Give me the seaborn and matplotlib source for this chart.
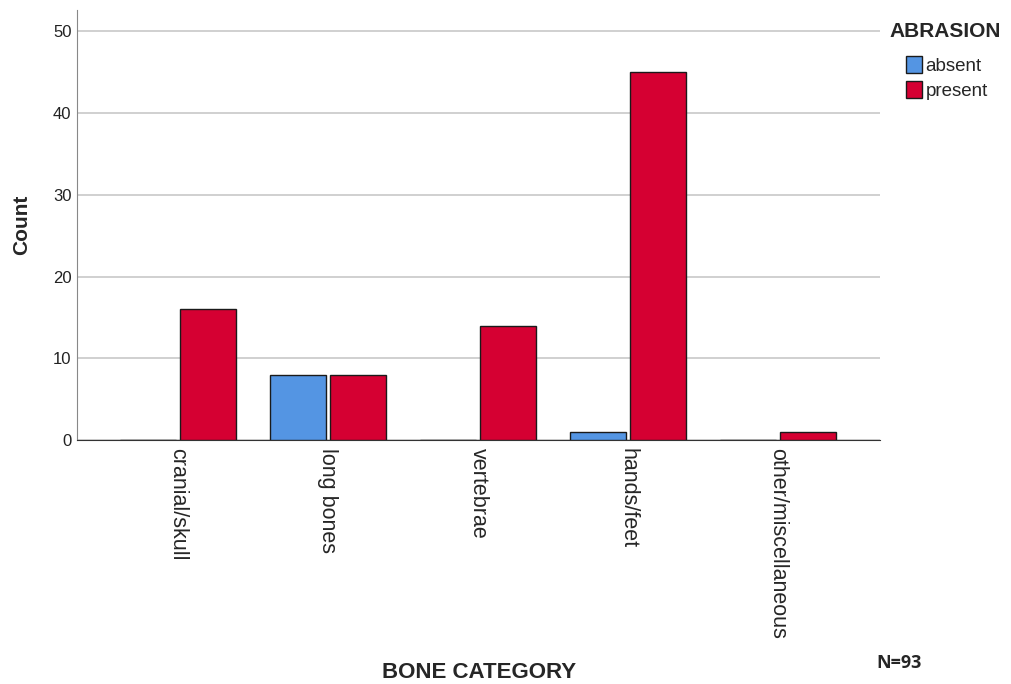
import matplotlib
matplotlib.use("Agg")
import matplotlib.pyplot as plt
import pandas as pd
import seaborn as sns

# Datos
categorias = ["cranial/skull", "long bones", "vertebrae", "hands/feet", "other/miscellaneous"]
absent = [0, 8, 0, 1, 0]
present = [16, 8, 14, 45, 1]

df = pd.DataFrame({
    "BONE CATEGORY": categorias * 2,
    "ABRASION": ["absent"] * len(categorias) + ["present"] * len(categorias),
    "Count": absent + present,
})

sns.set_style("white")
plt.rcParams["font.family"] = ["Liberation Sans", "DejaVu Sans"]

fig = plt.figure(figsize=(10.12, 6.84), dpi=100)
ax = fig.add_axes([0.0761, 0.3567, 0.7935, 0.6287])

paleta = {"absent": "#5495e3", "present": "#d50032"}
sns.barplot(data=df, x="BONE CATEGORY", y="Count", hue="ABRASION",
            palette=paleta, width=0.8, gap=0.08, edgecolor="#1a1a1a",
            linewidth=1.0, saturation=1, ax=ax, zorder=3)

ax.set_ylim(0, 52.6)
ax.set_xlim(-0.673, 4.68)
ax.set_yticks([0, 10, 20, 30, 40, 50])
ax.yaxis.grid(True, color="#c8c8c8", linewidth=1.2, zorder=0)
ax.set_axisbelow(True)
for lado in ["top", "right"]:
    ax.spines[lado].set_visible(False)
ax.spines["left"].set_color("#888888")
ax.spines["bottom"].set_color("#333333")
ax.tick_params(axis="y", labelsize=12, colors="#222222", length=0, pad=4)
ax.tick_params(axis="x", labelsize=15.5, length=0, pad=6)
ax.set_xticks(range(len(categorias)))
ax.set_xticklabels(categorias, rotation=270, va="top", ha="center")

ax.set_ylabel("")
ax.set_xlabel("")
fig.text(0.021, 0.671, "Count", fontsize=15, fontweight="bold", rotation=90,
         ha="center", va="center")
fig.text(0.473, 0.017, "BONE CATEGORY", fontsize=16, fontweight="bold",
         ha="center", va="center")
fig.text(0.866, 0.024, "N=93", fontsize=13, fontweight="bold", family=["Open Sans", "DejaVu Sans"])

fig.text(0.879, 0.954, "ABRASION", fontsize=15, fontweight="bold", va="center")
leg = ax.legend(loc="upper left", bbox_to_anchor=(0.895, 0.918), bbox_transform=fig.transFigure,
                frameon=False, fontsize=13.5,
                handlelength=0.85, handleheight=1.05, handletextpad=0.2,
                labelspacing=0.3, borderaxespad=0, borderpad=0)
for h in leg.legend_handles:
    h.set_edgecolor("#1a1a1a")

fig.savefig("out.png", dpi=100)
